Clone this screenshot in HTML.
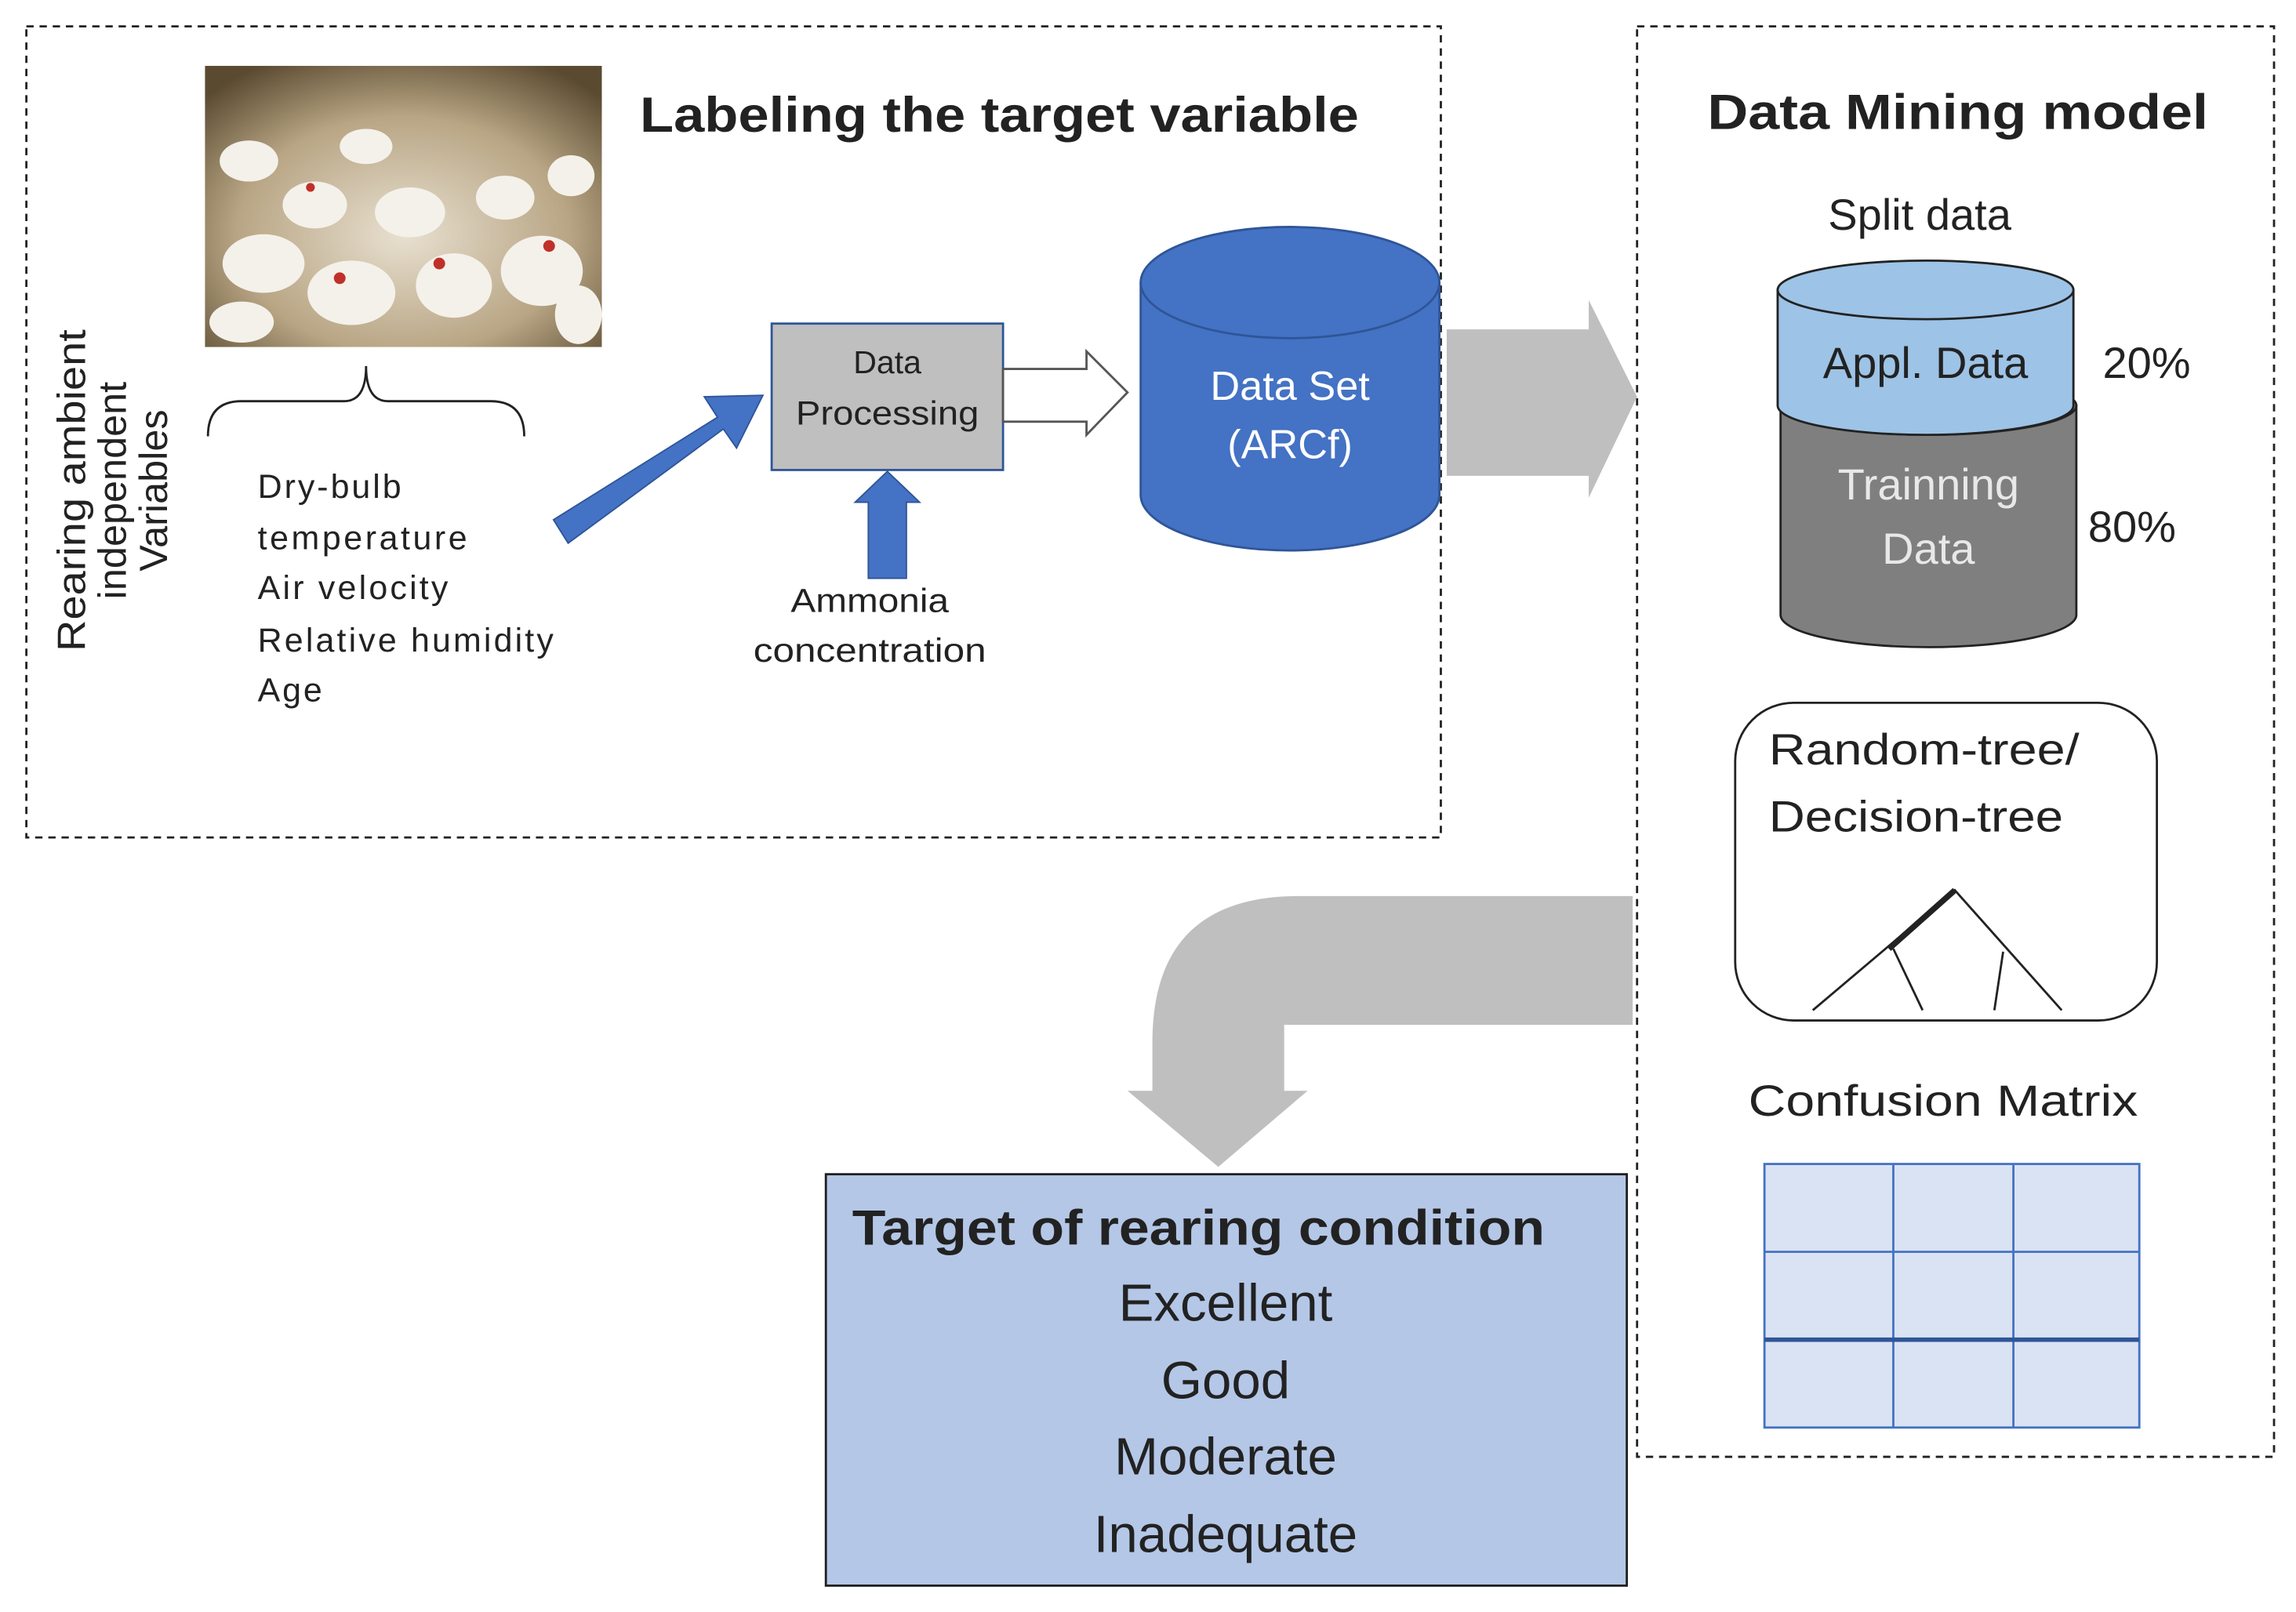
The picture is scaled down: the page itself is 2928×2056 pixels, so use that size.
<!DOCTYPE html>
<html><head><meta charset="utf-8"><style>
html,body{margin:0;padding:0;background:#fff;}
svg{display:block;}
text{font-family:"Liberation Sans",sans-serif;fill:#222;}
</style></head><body>
<svg width="2928" height="2056" viewBox="0 0 1568 1101" preserveAspectRatio="none" xmlns="http://www.w3.org/2000/svg">
<defs>
<radialGradient id="ph" cx="50%" cy="60%" r="70%">
<stop offset="0" stop-color="#e8e0d0"/><stop offset="0.6" stop-color="#b8a584"/><stop offset="1" stop-color="#5a4a30"/>
</radialGradient>
</defs>
<rect width="1568" height="1101" fill="#fff"/>
<rect x="18" y="18" width="966" height="554" fill="none" stroke="#222" stroke-width="1.5" stroke-dasharray="5,4"/>
<rect x="1118" y="18" width="435" height="977" fill="none" stroke="#222" stroke-width="1.5" stroke-dasharray="5,4"/>
<rect x="140" y="45" width="271" height="192" fill="url(#ph)"/>
<g fill="#f4f1ea">
<ellipse cx="180" cy="180" rx="28" ry="20"/><ellipse cx="240" cy="200" rx="30" ry="22"/><ellipse cx="310" cy="195" rx="26" ry="22"/>
<ellipse cx="370" cy="185" rx="28" ry="24"/><ellipse cx="215" cy="140" rx="22" ry="16"/><ellipse cx="280" cy="145" rx="24" ry="17"/>
<ellipse cx="345" cy="135" rx="20" ry="15"/><ellipse cx="395" cy="215" rx="16" ry="20"/><ellipse cx="165" cy="220" rx="22" ry="14"/>
<ellipse cx="170" cy="110" rx="20" ry="14"/><ellipse cx="250" cy="100" rx="18" ry="12"/><ellipse cx="390" cy="120" rx="16" ry="14"/>
</g>
<g fill="#c0302a"><circle cx="232" cy="190" r="4"/><circle cx="300" cy="180" r="4"/><circle cx="375" cy="168" r="4"/><circle cx="212" cy="128" r="3"/></g>
<text x="437" y="90" font-size="34" font-weight="bold" textLength="491" lengthAdjust="spacingAndGlyphs">Labeling the target variable</text>
<text transform="translate(58,335) rotate(-90)" font-size="27" text-anchor="middle" textLength="220" lengthAdjust="spacingAndGlyphs">Rearing ambient</text>
<text transform="translate(86,335) rotate(-90)" font-size="27" text-anchor="middle">independent</text>
<text transform="translate(114,335) rotate(-90)" font-size="27" text-anchor="middle">Variables</text>
<path d="M142,298 Q142,274 165,274 L235,274 Q250,274 250,250 Q250,274 265,274 L335,274 Q358,274 358,298" fill="none" stroke="#222" stroke-width="1.5"/>
<g font-size="23" lengthAdjust="spacingAndGlyphs">
<text x="176" y="340" textLength="98">Dry-bulb</text><text x="176" y="375" textLength="143">temperature</text><text x="176" y="409" textLength="130">Air velocity</text>
<text x="176" y="445" textLength="202">Relative humidity</text><text x="176" y="479" textLength="44">Age</text>
</g>
<polygon points="378,355 490,285 481,271 521,270 503,306 494,293 388,371" fill="#4472c4" stroke="#2f5597" stroke-width="1"/>
<rect x="527" y="221" width="158" height="100" fill="#bfbfbf" stroke="#2f5597" stroke-width="1.5"/>
<text x="606" y="255" font-size="22" text-anchor="middle">Data</text>
<text x="606" y="290" font-size="23" text-anchor="middle" textLength="125" lengthAdjust="spacingAndGlyphs">Processing</text>
<polygon points="685,252 742,252 742,240 770,268 742,297 742,288 685,288" fill="#fff" stroke="#555" stroke-width="1.5"/>
<polygon points="593,395 619,395 619,343 628,343 606,322 584,343 593,343" fill="#4472c4" stroke="#2f5597"/>
<text x="594" y="418" font-size="23" text-anchor="middle" textLength="108" lengthAdjust="spacingAndGlyphs">Ammonia</text>
<text x="594" y="452" font-size="23" text-anchor="middle" textLength="159" lengthAdjust="spacingAndGlyphs">concentration</text>
<path d="M779,193 L779,338 A102,38 0 0 0 983,338 L983,193" fill="#4472c4" stroke="#2f5597" stroke-width="1.5"/>
<ellipse cx="881" cy="193" rx="102" ry="38" fill="#4472c4" stroke="#2f5597" stroke-width="1.5"/>
<text x="881" y="273" font-size="28" text-anchor="middle" style="fill:#fff">Data Set</text>
<text x="881" y="313" font-size="28" text-anchor="middle" style="fill:#fff">(ARCf)</text>
<polygon points="988,225 1085,225 1085,205 1118,271 1085,340 1085,325 988,325" fill="#bfbfbf"/>
<text x="1166" y="88" font-size="34" font-weight="bold" textLength="342" lengthAdjust="spacingAndGlyphs">Data Mining model</text>
<text x="1311" y="157" font-size="30" text-anchor="middle">Split data</text>
<path d="M1216,277 L1216,420 A101,22 0 0 0 1418,420 L1418,277 Z" fill="#7f7f7f" stroke="#222" stroke-width="1.5"/>
<ellipse cx="1317" cy="277" rx="101" ry="20" fill="#7f7f7f" stroke="#222" stroke-width="1.5"/>
<path d="M1214,198 L1214,277 A101,20 0 0 0 1416,277 L1416,198 Z" fill="#9dc3e6" stroke="#222" stroke-width="1.5"/>
<ellipse cx="1315" cy="198" rx="101" ry="20" fill="#9dc3e6" stroke="#222" stroke-width="1.5"/>
<text x="1315" y="258" font-size="30" text-anchor="middle">Appl. Data</text>
<text x="1317" y="341" font-size="30" text-anchor="middle" style="fill:#e8e8e8">Trainning</text>
<text x="1317" y="385" font-size="30" text-anchor="middle" style="fill:#e8e8e8">Data</text>
<text x="1436" y="258" font-size="30">20%</text>
<text x="1426" y="370" font-size="30">80%</text>
<rect x="1185" y="480" width="288" height="217" rx="40" fill="#fff" stroke="#222" stroke-width="1.5"/>
<text x="1208" y="522" font-size="30" textLength="212" lengthAdjust="spacingAndGlyphs">Random-tree/</text>
<text x="1208" y="568" font-size="30" textLength="201" lengthAdjust="spacingAndGlyphs">Decision-tree</text>
<g stroke="#222" stroke-width="1.5" fill="none">
<path d="M1238,690 L1335,608 L1408,690"/><path d="M1293,648 L1313,690"/><path d="M1368,650 L1362,690"/>
<path d="M1290,648 L1335,608" stroke-width="4"/>
</g>
<text x="1327" y="762" font-size="30" text-anchor="middle" textLength="266" lengthAdjust="spacingAndGlyphs">Confusion  Matrix</text>
<rect x="1205" y="795" width="256" height="180" fill="#dae3f3" stroke="#4472c4" stroke-width="1.5"/>
<g stroke="#4472c4" stroke-width="1.5"><line x1="1293" y1="795" x2="1293" y2="975"/><line x1="1375" y1="795" x2="1375" y2="975"/>
<line x1="1205" y1="855" x2="1461" y2="855"/><line x1="1205" y1="915" x2="1461" y2="915" stroke="#2f5597" stroke-width="3"/></g>
<path d="M1115,612 L887,612 Q787,612 787,712 L787,745 L770,745 L832,797 L893,745 L877,745 L877,700 L1115,700 Z" fill="#bfbfbf"/>
<rect x="564" y="802" width="547" height="281" fill="#b4c7e7" stroke="#1f1f1f" stroke-width="1.5"/>
<text x="582" y="850" font-size="34" font-weight="bold" textLength="473" lengthAdjust="spacingAndGlyphs">Target of rearing condition</text>
<g font-size="36" text-anchor="middle">
<text x="837" y="902">Excellent</text><text x="837" y="955">Good</text><text x="837" y="1007">Moderate</text><text x="837" y="1060">Inadequate</text>
</g>
</svg>
</body></html>
